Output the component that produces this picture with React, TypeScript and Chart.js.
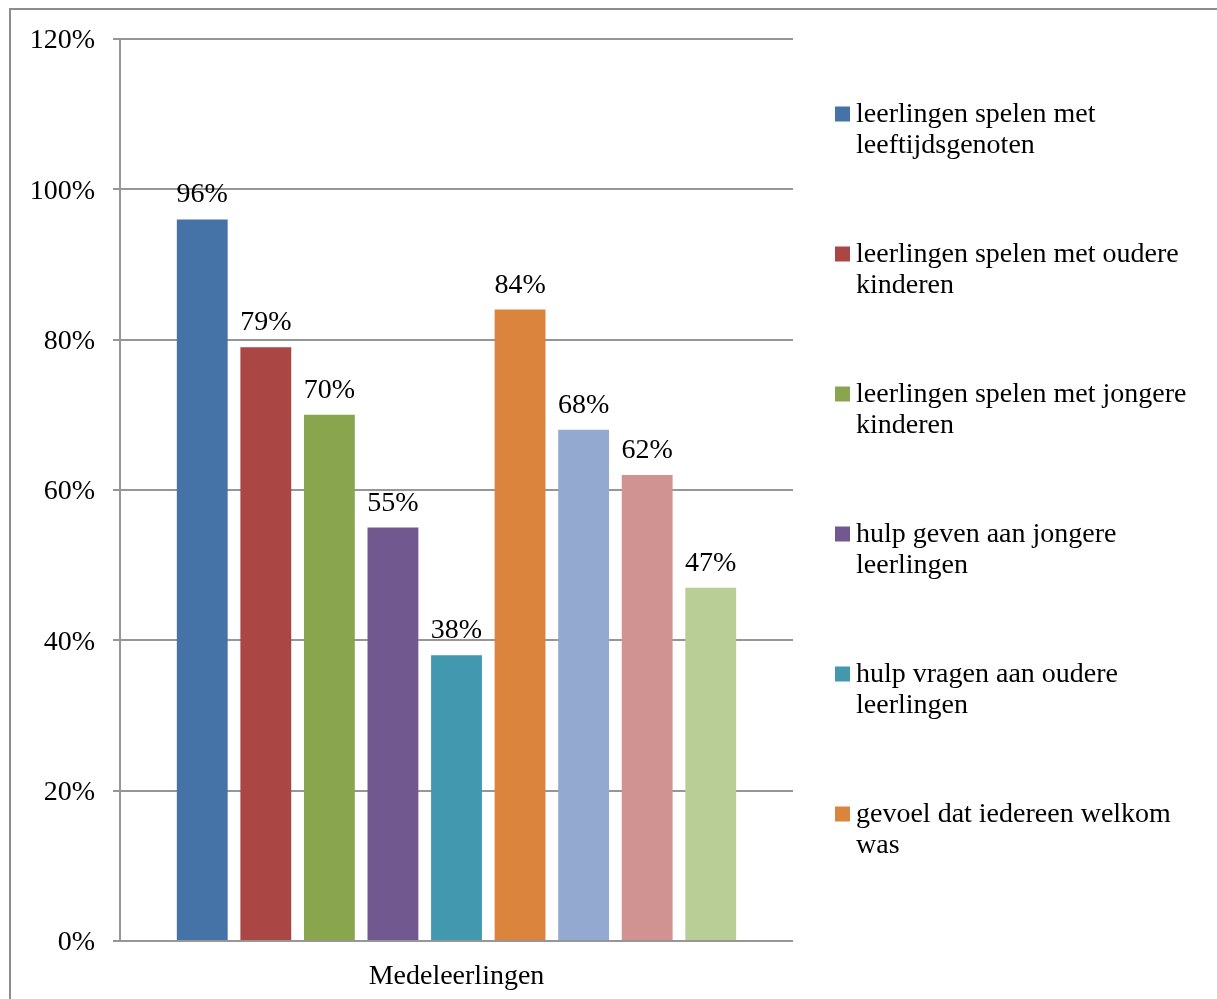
import React, { useEffect, useRef } from "react";
import { Chart, registerables } from "chart.js";

Chart.register(...registerables);

const categories = ["Medeleerlingen"];
const seriesNames = [
  "leerlingen spelen met leeftijdsgenoten",
  "leerlingen spelen met oudere kinderen",
  "leerlingen spelen met jongere kinderen",
  "hulp geven aan jongere leerlingen",
  "hulp vragen aan oudere leerlingen",
  "gevoel dat iedereen welkom was",
  "",
  "",
  "",
];
const seriesValues = [96, 79, 70, 55, 38, 84, 68, 62, 47];
const seriesColors = [
  "#4572A7",
  "#AA4643",
  "#89A54E",
  "#71588F",
  "#4198AF",
  "#DB843D",
  "#93A9CF",
  "#D19392",
  "#B9CD96",
];
const visibleLegendCount = 6;
const yTicks = [0, 20, 40, 60, 80, 100, 120];

const FONT = "'Liberation Serif', 'Times New Roman', serif";

const framePlugin = {
  id: "frame",
  beforeDraw(chart: any) {
    const ctx = chart.ctx;
    ctx.save();
    ctx.fillStyle = "#ffffff";
    ctx.fillRect(0, 0, chart.width, chart.height);
    ctx.strokeStyle = "#8d8d8d";
    ctx.lineWidth = 2;
    ctx.beginPath();
    ctx.moveTo(10, chart.height);
    ctx.lineTo(10, 9);
    ctx.lineTo(chart.width, 9);
    ctx.stroke();
    ctx.restore();
  },
};

const valueLabelPlugin = {
  id: "valueLabels",
  afterDatasetsDraw(chart: any) {
    const ctx = chart.ctx;
    ctx.save();
    ctx.font = `28px ${FONT}`;
    ctx.fillStyle = "#000000";
    ctx.textAlign = "center";
    ctx.textBaseline = "alphabetic";
    chart.data.datasets.forEach((ds: any, i: number) => {
      const meta = chart.getDatasetMeta(i);
      meta.data.forEach((el: any, j: number) => {
        ctx.fillText(`${ds.data[j]}%`, el.x, el.y - 17);
      });
    });
    ctx.restore();
  },
};

function wrapText(ctx: CanvasRenderingContext2D, text: string, maxWidth: number) {
  const words = text.split(" ");
  const lines: string[] = [];
  let line = "";
  words.forEach((w) => {
    const test = line ? line + " " + w : w;
    if (ctx.measureText(test).width > maxWidth && line) {
      lines.push(line);
      line = w;
    } else {
      line = test;
    }
  });
  if (line) lines.push(line);
  return lines;
}

const legendPlugin = {
  id: "customLegend",
  afterDraw(chart: any) {
    const ctx = chart.ctx;
    ctx.save();
    ctx.font = `28px ${FONT}`;
    ctx.textAlign = "left";
    ctx.textBaseline = "alphabetic";
    const x0 = 835;
    const y0 = 122;
    const step = 140;
    const lineH = 31;
    chart.data.datasets.slice(0, visibleLegendCount).forEach((ds: any, i: number) => {
      const y = y0 + i * step;
      ctx.fillStyle = ds.backgroundColor;
      ctx.fillRect(x0, y - 15.5, 15, 15);
      ctx.fillStyle = "#000000";
      const lines = wrapText(ctx, ds.label, 345);
      lines.forEach((ln, k) => {
        ctx.fillText(ln, x0 + 21, y + k * lineH);
      });
    });
    ctx.restore();
  },
};

export default function App() {
  const canvasRef = useRef<HTMLCanvasElement | null>(null);

  useEffect(() => {
    document.body.style.margin = "0";
    const canvas = canvasRef.current;
    if (!canvas) return;
    const chart = new Chart(canvas, {
      type: "bar",
      data: {
        labels: categories,
        datasets: seriesValues.map((v, i) => ({
          label: seriesNames[i],
          data: [v],
          backgroundColor: seriesColors[i],
          borderWidth: 0,
          categoryPercentage: 0.85,
          barPercentage: 0.8,
        })),
      },
      options: {
        responsive: false,
        animation: false,
        devicePixelRatio: 1,
        layout: { padding: { top: 39, right: 424, left: 0, bottom: 0 } },
        plugins: {
          legend: { display: false },
          tooltip: { enabled: false },
          title: { display: false },
        },
        scales: {
          x: {
            grid: { display: false, drawTicks: false },
            border: { display: false },
            ticks: {
              color: "#000000",
              font: { family: FONT, size: 28 },
              padding: 19,
            },
            afterFit(scale: any) {
              scale.height = 58;
            },
          },
          y: {
            min: 0,
            max: 120,
            afterBuildTicks(scale: any) {
              scale.ticks = yTicks.map((v) => ({ value: v }));
            },
            grid: {
              color: "#969696",
              lineWidth: 2,
              tickLength: 7,
              drawTicks: true,
            },
            border: { display: true, color: "#969696", width: 2 },
            ticks: {
              color: "#000000",
              font: { family: FONT, size: 28 },
              padding: 18,
              labelOffset: 2,
              callback: (v: any) => `${v}%`,
            },
            afterFit(scale: any) {
              scale.width = 120;
            },
          },
        },
      },
      plugins: [framePlugin, valueLabelPlugin, legendPlugin],
    });
    return () => chart.destroy();
  }, []);

  return (
    <div style={{ width: 1217, height: 999, position: "relative" }}>
      <canvas ref={canvasRef} width={1217} height={999} style={{ display: "block" }} />
    </div>
  );
}
